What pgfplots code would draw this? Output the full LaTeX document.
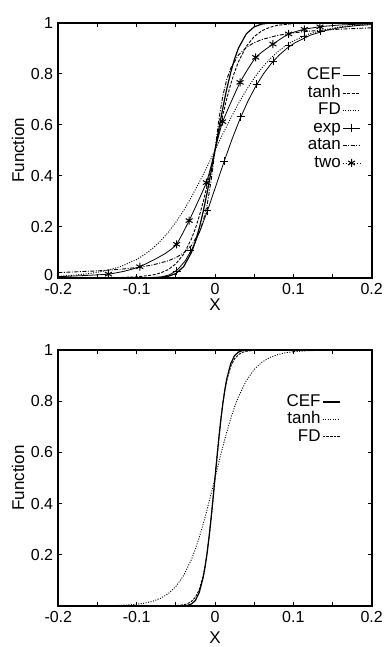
\documentclass[border=0pt]{standalone}
\usepackage{pgfplots}
\pgfplotsset{compat=1.18}
\usepackage{fontspec}
\setmainfont{Liberation Sans}
\begin{document}
\begin{tikzpicture}
\path[use as bounding box] (0,0) rectangle (385pt,647pt);
\pgfplotsset{
  every axis/.append style={
    scale only axis, width=313.4pt,
    xmin=-0.2, xmax=0.2, ymin=0, ymax=1,
    xtick={-0.2,-0.1,0,0.1,0.2},
    xticklabels={-0.2,-0.1,0,0.1,0.2},
    minor xtick={-0.15,-0.05,0.05,0.15},
    tick align=inside,
    major tick length=4pt, minor tick length=4pt,
    every tick/.style={black, line width=1pt},
    axis line style={line width=2pt},
    ticklabel style={font=\fontsize{16}{16}\selectfont},
    xticklabel style={inner sep=0.5pt, yshift=-4.5pt},
    yticklabel style={inner sep=0.5pt, xshift=-4.5pt},
    /pgf/number format/assume math mode=true,
    label style={font=\fontsize{17}{17}\selectfont},
    legend style={draw=none, fill=none, font=\fontsize{17}{17}\selectfont,
      anchor=north east, row sep=0pt, column sep=1pt,
      nodes={inner sep=0.5pt, text height=12.5pt, text depth=4pt}},
    legend cell align=right,
    legend plot pos=right,
    xlabel={X}, ylabel={Function},
    ylabel style={at={(axis description cs:-0.1286,0.5)}, anchor=center},
  }
}
% ---------------- top panel ----------------
\begin{axis}[at={(58.3pt,369.3pt)}, anchor=south west, height=255pt,
  ytick={0,0.2,0.4,0.6,0.8,1},
  yticklabels={\raisebox{3pt}[\height][\depth]{0},0.2,0.4,0.6,0.8,1},
  xlabel style={at={(axis description cs:0.5,-0.107)}, anchor=center},
  legend style={at={(0.975,0.836)}}]
% CEF
\addplot[black, line width=1.2pt] table {
-0.2 0
-0.1 0
-0.08 0.0003
-0.07 0.0013
-0.06 0.0051
-0.05 0.0163
-0.04 0.0435
-0.03 0.0993
-0.025 0.1418
-0.02 0.1956
-0.015 0.2600
-0.01 0.3341
-0.005 0.4152
0 0.5
0.005 0.5848
0.01 0.6659
0.015 0.7400
0.02 0.8044
0.025 0.8582
0.03 0.9007
0.04 0.9565
0.05 0.9837
0.06 0.9949
0.07 0.9987
0.08 0.9997
0.1 1
0.2 1
};
\addlegendentry{CEF}
% tanh
\addplot[black, line width=0.9pt, dash pattern=on 3pt off 1.5pt] table {
-0.2 0
-0.15 0.0002
-0.12 0.0010
-0.1 0.0033
-0.08 0.0102
-0.07 0.0180
-0.06 0.0314
-0.05 0.0543
-0.04 0.0923
-0.03 0.1526
-0.025 0.1933
-0.02 0.2418
-0.015 0.2980
-0.01 0.3609
-0.005 0.4291
0 0.5
0.005 0.5709
0.01 0.6391
0.015 0.7020
0.02 0.7582
0.025 0.8067
0.03 0.8474
0.04 0.9077
0.05 0.9457
0.06 0.9686
0.07 0.9820
0.08 0.9898
0.1 0.9967
0.12 0.9990
0.15 0.9998
0.2 1
};
\addlegendentry{tanh}
% FD
\addplot[black, line width=0.9pt, dash pattern=on 1pt off 1.5pt] table {
-0.2 0.0059
-0.18 0.0098
-0.16 0.0163
-0.14 0.0269
-0.12 0.0441
-0.1 0.0715
-0.09 0.0905
-0.08 0.1139
-0.07 0.1424
-0.06 0.1768
-0.05 0.2172
-0.04 0.2639
-0.03 0.3167
-0.02 0.3746
-0.01 0.4362
0 0.5
0.01 0.5638
0.02 0.6254
0.03 0.6833
0.04 0.7361
0.05 0.7828
0.06 0.8232
0.07 0.8576
0.08 0.8861
0.09 0.9095
0.1 0.9285
0.12 0.9559
0.14 0.9731
0.16 0.9837
0.18 0.9902
0.2 0.9941
};
\addlegendentry{FD}
% exp
\addplot[black, line width=0.8pt, legend image post style={mark=+, mark size=4pt}] table {
-0.2 0
-0.078 0.0006
-0.068 0.0032
-0.058 0.0113
-0.048 0.0305
-0.038 0.0660
-0.028 0.1204
-0.018 0.1923
-0.008 0.2769
0.002 0.3679
0.012 0.4590
0.022 0.5453
0.032 0.6235
0.042 0.6922
0.052 0.7509
0.062 0.8000
0.072 0.8405
0.082 0.8734
0.092 0.9000
0.102 0.9212
0.122 0.9514
0.142 0.9702
0.162 0.9819
0.182 0.9890
0.2 0.9925
};
\addlegendentry{exp}
\addplot[black, only marks, mark=+, mark size=4pt, line width=0.8pt, forget plot] table {
-0.049 0.026
-0.032 0.106
-0.0098 0.263
0.0115 0.458
0.033 0.631
0.053 0.759
0.074 0.850
0.094 0.910
0.114 0.945
0.135 0.966
};
% atan
\addplot[black, line width=0.9pt, dash pattern=on 4pt off 1.5pt on 1pt off 1.5pt] table {
-0.2 0.0200
-0.15 0.0267
-0.12 0.0333
-0.1 0.0399
-0.08 0.0497
-0.06 0.0659
-0.05 0.0785
-0.04 0.0970
-0.03 0.1265
-0.02 0.1790
-0.015 0.2224
-0.01 0.2864
-0.005 0.3797
-0.0025 0.4376
0 0.5
0.0025 0.5624
0.005 0.6203
0.01 0.7136
0.015 0.7776
0.02 0.8210
0.03 0.8735
0.04 0.9030
0.05 0.9215
0.06 0.9341
0.08 0.9503
0.1 0.9601
0.12 0.9667
0.15 0.9733
0.2 0.9800
};
\addlegendentry{atan}
% two
\addplot[black, line width=0.8pt, smooth, tension=0.3, legend image post style={dotted, mark=asterisk, mark size=4pt, mark options={solid, line width=1pt}}] table {
-0.2 0.004
-0.17 0.008
-0.136 0.014
-0.115 0.026
-0.096 0.043
-0.075 0.075
-0.062 0.098
-0.049 0.131
-0.033 0.224
-0.011 0.373
0 0.5
0.0098 0.612
0.032 0.766
0.052 0.864
0.074 0.916
0.094 0.956
0.114 0.974
0.134 0.984
0.16 0.991
0.2 0.996
};
\addlegendentry{two}
\addplot[black, only marks, mark=asterisk, mark size=4pt, line width=1pt, forget plot] table {
-0.136 0.014
-0.096 0.043
-0.049 0.131
-0.033 0.224
-0.011 0.373
0.0098 0.612
0.032 0.766
0.052 0.864
0.074 0.916
0.094 0.956
0.114 0.974
0.134 0.984
};
\end{axis}
% ---------------- bottom panel ----------------
\begin{axis}[at={(58.3pt,41pt)}, anchor=south west, height=256pt,
  ytick={0,0.2,0.4,0.6,0.8,1},
  yticklabels={,0.2,0.4,0.6,0.8,1},
  xlabel style={at={(axis description cs:0.5,-0.125)}, anchor=center},
  legend style={at={(0.91,0.84)}}]
% CEF
\addplot[black, line width=1.2pt] table {
-0.2 0
-0.05 0
-0.04 0.0006
-0.035 0.0023
-0.03 0.0080
-0.025 0.0218
-0.02 0.0536
-0.015 0.1126
-0.0125 0.1562
-0.01 0.2094
-0.0075 0.2722
-0.005 0.3430
-0.0025 0.4200
0 0.5
0.0025 0.5800
0.005 0.6570
0.0075 0.7278
0.01 0.7906
0.0125 0.8438
0.015 0.8874
0.02 0.9464
0.025 0.9782
0.03 0.9920
0.035 0.9977
0.04 0.9994
0.05 1
0.2 1
};
\addlegendentry{CEF}
% tanh (widest, dotted)
\addplot[black, line width=0.9pt, dash pattern=on 1pt off 1.5pt] table {
-0.2 0
-0.15 0.0006
-0.12 0.0025
-0.1 0.0067
-0.09 0.0110
-0.08 0.0180
-0.07 0.0293
-0.06 0.0474
-0.05 0.0759
-0.04 0.1192
-0.03 0.1824
-0.025 0.2227
-0.02 0.2689
-0.015 0.3208
-0.01 0.3775
-0.005 0.4378
0 0.5
0.005 0.5622
0.01 0.6225
0.015 0.6792
0.02 0.7311
0.025 0.7773
0.03 0.8176
0.04 0.8808
0.05 0.9241
0.06 0.9526
0.07 0.9707
0.08 0.9820
0.09 0.9890
0.1 0.9933
0.12 0.9975
0.15 0.9994
0.2 1
};
\addlegendentry{tanh}
% FD (middle, dashed)
\addplot[black, line width=0.9pt, dash pattern=on 2.5pt off 1.2pt] table {
-0.2 0
-0.08 0.0000
-0.06 0.0003
-0.05 0.0013
-0.04 0.0048
-0.035 0.0093
-0.03 0.0180
-0.025 0.0344
-0.02 0.0650
-0.015 0.1192
-0.0125 0.1589
-0.01 0.2086
-0.0075 0.2689
-0.005 0.3392
-0.0025 0.4174
0 0.5
0.0025 0.5826
0.005 0.6608
0.0075 0.7311
0.01 0.7914
0.0125 0.8411
0.015 0.8808
0.02 0.9350
0.025 0.9656
0.03 0.9820
0.035 0.9907
0.04 0.9952
0.05 0.9987
0.06 0.9997
0.08 1
0.2 1
};
\addlegendentry{FD}
\end{axis}
\end{tikzpicture}
\end{document}
